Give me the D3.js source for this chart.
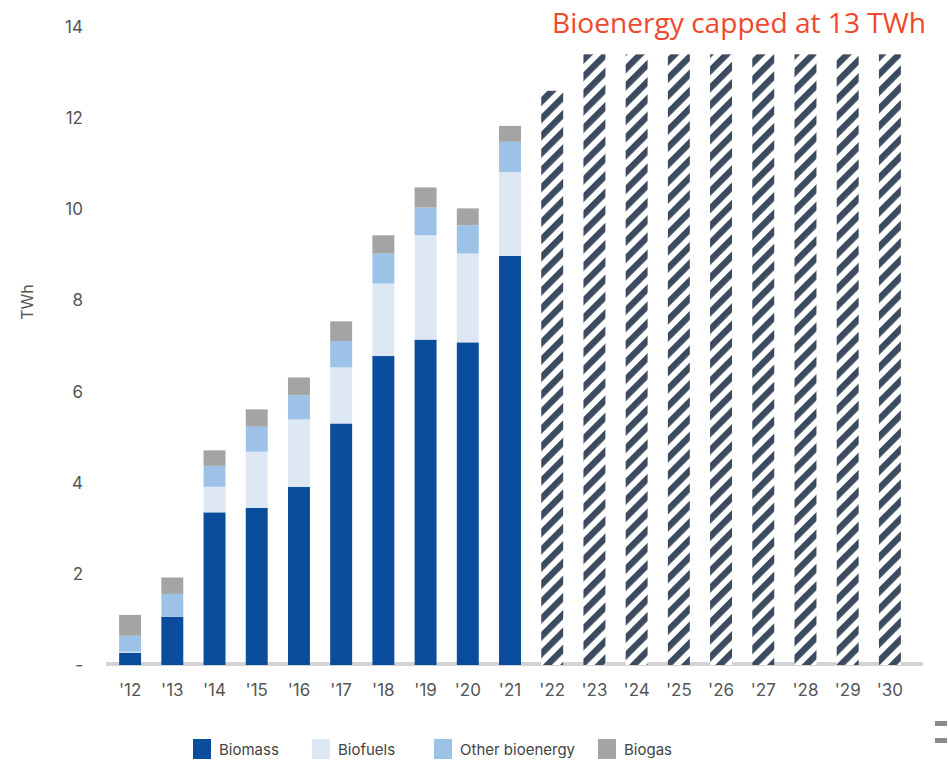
<!DOCTYPE html>
<html>
<head>
<meta charset="utf-8">
<script src="https://cdn.jsdelivr.net/npm/d3@7"></script>
<style>
  body { margin: 0; background: #fff; }
  svg { display: block; }
</style>
</head>
<body>
<div id="chart"></div>
<script>
"use strict";

// data (TWh)
const years = ["'12", "'13", "'14", "'15", "'16", "'17", "'18", "'19", "'20", "'21",
               "'22", "'23", "'24", "'25", "'26", "'27", "'28", "'29", "'30"];
const actualYears = ["'12", "'13", "'14", "'15", "'16", "'17", "'18", "'19", "'20", "'21"];
const biomass = [0.27, 1.06, 3.35, 3.45, 3.91, 5.30, 6.78, 7.14, 7.08, 8.98];
const biofuels = [0.02, 0.00, 0.56, 1.23, 1.48, 1.23, 1.59, 2.29, 1.95, 1.84];
const otherBio = [0.35, 0.50, 0.46, 0.55, 0.53, 0.58, 0.66, 0.61, 0.62, 0.66];
const biogas = [0.46, 0.36, 0.34, 0.38, 0.39, 0.43, 0.40, 0.44, 0.37, 0.35];
const capYears = ["'22", "'23", "'24", "'25", "'26", "'27", "'28", "'29", "'30"];
const capValues = [12.6, 13.4, 13.4, 13.4, 13.4, 13.4, 13.4, 13.4, 13.4];
const yTicks = [0, 2, 4, 6, 8, 10, 12, 14];
const seriesNames = ["Biomass", "Biofuels", "Other bioenergy", "Biogas"];
const seriesColors = ["#0b4d9d", "#dde8f4", "#9cc3e7", "#a4a4a4"];

const msm = {
    width: 948,
    height: 763,
    left: 109,
    right: 911,
    top: 27,
    base: 665
}

const svg = d3.select("#chart")
    .append("svg")
    .attr("width", msm.width)
    .attr("height", msm.height);

// hatch pattern for the capped years
const defs = svg.append("defs");
const pat = defs.append("pattern")
    .attr("id", "hatch")
    .attr("patternUnits", "userSpaceOnUse")
    .attr("width", 12.2)
    .attr("height", 12.2)
    .attr("patternTransform", "rotate(45)");
pat.append("rect")
    .attr("width", 12.2).attr("height", 12.2).attr("fill", "#fff");
pat.append("rect")
    .attr("x", 0).attr("width", 6.4).attr("height", 12.2).attr("fill", "#3d4b60");

let xScale = d3.scaleBand()
    .domain(years)
    .range([msm.left, msm.right])
    .paddingInner(0.48)
    .paddingOuter(0.24);

let yScale = d3.scaleLinear()
    .domain([0, 14])
    .range([msm.base, msm.top]);

// base line
svg.append("rect")
    .attr("x", 106)
    .attr("y", msm.base - 3)
    .attr("width", 923 - 106)
    .attr("height", 4)
    .attr("fill", "#d3d3d3");

// stacked bars
let rows = actualYears.map((y, i) => ({
    year: y,
    "Biomass": biomass[i],
    "Biofuels": biofuels[i],
    "Other bioenergy": otherBio[i],
    "Biogas": biogas[i]
}));
let stacked = d3.stack().keys(seriesNames)(rows);

svg.selectAll(".layer")
    .data(stacked)
    .enter()
    .append("g")
    .attr("class", "layer")
    .attr("fill", (d, i) => seriesColors[i])
    .selectAll("rect")
    .data(d => d)
    .enter()
    .append("rect")
    .attr("x", d => xScale(d.data.year))
    .attr("width", xScale.bandwidth())
    .attr("y", d => yScale(d[1]))
    .attr("height", d => yScale(d[0]) - yScale(d[1]));

// hatched bars
svg.selectAll(".cap")
    .data(capYears)
    .enter()
    .append("rect")
    .attr("class", "cap")
    .attr("x", d => xScale(d))
    .attr("width", xScale.bandwidth())
    .attr("y", (d, i) => yScale(capValues[i]))
    .attr("height", (d, i) => yScale(0) - yScale(capValues[i]))
    .attr("fill", "url(#hatch)");

// y axis
let yAxis = d3.axisLeft(yScale)
    .tickValues(yTicks)
    .tickSize(0)
    .tickPadding(0)
    .tickFormat(d => d === 0 ? "-" : d);
let yG = svg.append("g")
    .attr("transform", "translate(83,0)")
    .call(yAxis);
yG.select(".domain").remove();
yG.selectAll("text")
    .attr("fill", "#555")
    .style("font-family", "Inter, 'Noto Sans', sans-serif")
    .style("font-size", "17px");

// x axis
let xAxis = d3.axisBottom(xScale)
    .tickSize(0)
    .tickPadding(0);
let xG = svg.append("g")
    .attr("transform", "translate(0,682)")
    .call(xAxis);
xG.select(".domain").remove();
xG.selectAll("text")
    .attr("fill", "#555")
    .attr("dy", "0.8em")
    .style("font-family", "Inter, 'Noto Sans', sans-serif")
    .style("font-size", "17px");

// y label
svg.append("text")
    .attr("transform", "translate(33,302) rotate(-90)")
    .attr("text-anchor", "middle")
    .attr("fill", "#555")
    .style("font-family", "Inter, 'Noto Sans', sans-serif")
    .style("font-size", "16px")
    .text("TWh");

// title annotation
svg.append("text")
    .attr("x", 926)
    .attr("y", 33)
    .attr("text-anchor", "end")
    .attr("fill", "#f0482d")
    .attr("textLength", 374)
    .attr("lengthAdjust", "spacingAndGlyphs")
    .style("font-family", "'Open Sans', 'Noto Sans', sans-serif")
    .style("font-size", "28px")
    .text("Bioenergy capped at 13 TWh");

// legend
const legendX = [193, 312, 434, 598];
let legend = svg.selectAll(".legend")
    .data(seriesNames)
    .enter()
    .append("g")
    .attr("class", "legend")
    .attr("transform", (d, i) => "translate(" + legendX[i] + ",739)");
legend.append("rect")
    .attr("width", 18)
    .attr("height", 20)
    .attr("fill", (d, i) => seriesColors[i]);
legend.append("text")
    .attr("x", 26)
    .attr("y", 16)
    .attr("fill", "#444")
    .style("font-family", "Inter, 'Noto Sans', sans-serif")
    .style("font-size", "15px")
    .text(d => d);

// small marks at bottom right
svg.selectAll(".mark")
    .data([721, 738])
    .enter()
    .append("rect")
    .attr("class", "mark")
    .attr("x", 935)
    .attr("y", d => d)
    .attr("width", 12)
    .attr("height", 5)
    .attr("fill", "#8a8a8a");
</script>
</body>
</html>
